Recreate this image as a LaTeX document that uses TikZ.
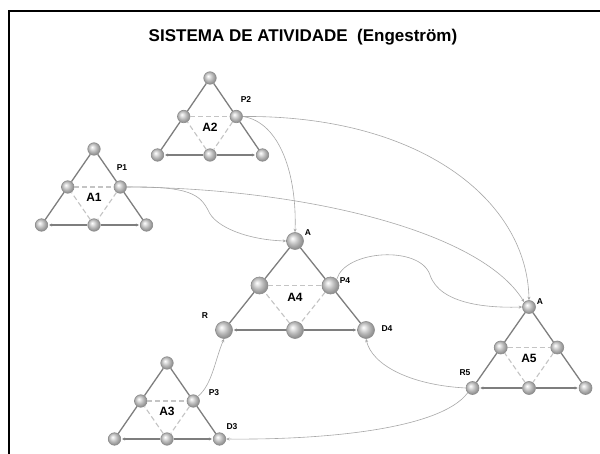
\documentclass[tikz,border=0pt]{standalone}
\usepackage{fontspec}
\setmainfont{Liberation Sans}
\usetikzlibrary{arrows.meta,shadings}
\definecolor{edgegray}{HTML}{7E7E7E}
\definecolor{dashgray}{HTML}{C4C4C4}
\definecolor{linkgray}{HTML}{A8A8A8}
\pgfdeclareradialshading{lightball}{\pgfqpoint{-8bp}{8bp}}{%
  color(0bp)=(white); color(5bp)=(white!92!black); color(16bp)=(black!28);
  color(25bp)=(black!42); color(50bp)=(black!42)}
\tikzset{
  ball/.style={circle,inner sep=0pt,minimum size=#1,shading=lightball,draw=black!45,line width=0.6pt},
  ball/.default=12pt,
  side/.style={draw=edgegray,line width=1.3pt},
  bottomedge/.style={draw=edgegray,line width=1.3pt,-{Stealth[length=3pt,width=3pt]},shorten >=1pt},
  inner/.style={draw=dashgray,line width=1.1pt,dash pattern=on 5pt off 3pt},
  link/.style={draw=linkgray,line width=0.6pt,-{Stealth[length=3.5pt,width=3pt]}},
  small/.style={font=\bfseries\fontsize{8.5}{10}\selectfont,inner sep=0pt},
  big/.style={font=\bfseries\fontsize{12}{14}\selectfont,inner sep=0pt},
}
% #1 name, #2 top x, #3 top y, #4 half-width, #5 height, #6 node size, #7 label
\newcommand\trimake[7]{%
  \node[ball=#6] (#1t) at (#2,#3) {};
  \node[ball=#6] (#1l) at ({#2-#4/2},{#3+#5/2}) {};
  \node[ball=#6] (#1r) at ({#2+#4/2},{#3+#5/2}) {};
  \node[ball=#6] (#1bl) at ({#2-#4},{#3+#5}) {};
  \node[ball=#6] (#1bm) at (#2,{#3+#5}) {};
  \node[ball=#6] (#1br) at ({#2+#4},{#3+#5}) {};
  \path[side] (#1t) -- (#1l) -- (#1bl);
  \path[side] (#1t) -- (#1r) -- (#1br);
  \path[bottomedge] (#1bm) -- (#1bl);
  \path[bottomedge] (#1bm) -- (#1br);
  \path[inner] (#1l) -- (#1r);
  \path[inner] (#1r) -- (#1bm);
  \path[inner] (#1bm) -- (#1l);
  \node[big] (#1lab) at (#2,{#3+0.635*#5}) {#7};
}
\begin{document}
\begin{tikzpicture}[x=1pt,y=-1pt]
\useasboundingbox (0,0) rectangle (600,454);
\fill[white] (0,0) rectangle (600,454);
\draw[line width=2pt,line cap=rect] (9,454) -- (9,11) -- (600,11);
\node[font=\bfseries\fontsize{17}{20}\selectfont] (title) at (303,37) {SISTEMA DE ATIVIDADE\ \ (Engestr\"om)};

\trimake{a}{94}{149}{52.5}{76}{12.5pt}{A1}
\trimake{b}{210}{78}{52.5}{77}{12.5pt}{A2}
\trimake{c}{167}{363}{52.5}{76}{12.5pt}{A3}
\trimake{d}{295}{241}{71}{89}{17pt}{A4}
\trimake{e}{529}{307}{56.5}{81}{13pt}{A5}

\node[small] (p1) at (122,168) {P1};
\node[small] (p2) at (246,100) {P2};
\node[small] (p3) at (214,393) {P3};
\node[small] (d3) at (232,427) {D3};
\node[small] (aa) at (308,233) {A};
\node[small] (p4) at (345,281) {P4};
\node[small] (rr) at (205,316) {R};
\node[small] (d4) at (387,329) {D4};
\node[small] (ab) at (540,302) {A};
\node[small] (r5) at (465,373) {R5};

% connectors
\draw[link] (br.east) .. controls (420,115) and (527,200) .. (et.north);
\draw[link] (br.east) .. controls (280,122) and (297,175) .. (dt.north);
\draw[link] (ar.east) .. controls (190,186) and (200,195) .. (208,210) .. controls (215,228) and (250,240) .. (dt.west);
\draw[link] (ar.east) .. controls (300,188) and (480,230) .. (et.north west);
\draw[link] (dr.north east) .. controls (345,250) and (420,245) .. (430,275) .. controls (440,305) and (490,308) .. (et.west);
\draw[link] (cr.north east) .. controls (212,385) and (215,360) .. (dbl.south);
\draw[link] (ebl.west) .. controls (410,385) and (372,365) .. (dbr.south);
\draw[link] (ebl.south west) .. controls (440,430) and (320,440) .. (cbr.east);
\end{tikzpicture}
\end{document}
